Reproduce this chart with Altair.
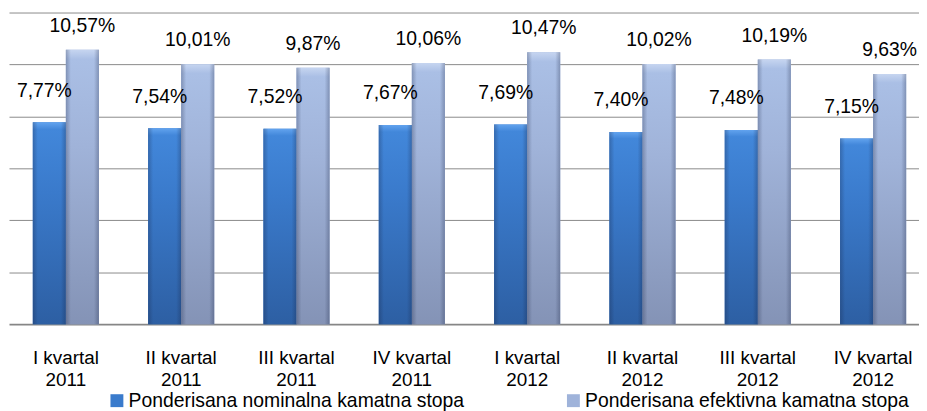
import altair as alt
import pandas as pd

quarters = ["I kvartal", "II kvartal", "III kvartal", "IV kvartal",
            "I kvartal", "II kvartal", "III kvartal", "IV kvartal"]
years = ["2011", "2011", "2011", "2011", "2012", "2012", "2012", "2012"]
series_names = ["Ponderisana nominalna kamatna stopa",
                "Ponderisana efektivna kamatna stopa"]
nominal = [7.77, 7.54, 7.52, 7.67, 7.69, 7.40, 7.48, 7.15]
effective = [10.57, 10.01, 9.87, 10.06, 10.47, 10.02, 10.19, 9.63]

categories = [f"{q} {y}" for q, y in zip(quarters, years)]
rows = []
for c, n, e in zip(categories, nominal, effective):
    rows.append({"cat": c, "series": series_names[0], "value": n})
    rows.append({"cat": c, "series": series_names[1], "value": e})
df = pd.DataFrame(rows)

FONT = "Liberation Sans"

x_enc = alt.X(
    "cat:N", sort=categories,
    scale=alt.Scale(paddingInner=0.427, paddingOuter=0.159, align=0.65),
    axis=alt.Axis(
        title=None, labelAngle=0, ticks=False, tickSize=0, grid=False,
        labelExpr="[substring(datum.value, 0, indexof(datum.value, ' 20')), substring(datum.value, indexof(datum.value, ' 20') + 1)]",
        labelFont=FONT, labelFontSize=19, labelColor="#000000",
        labelLineHeight=22, labelPadding=25,
        domain=True, domainColor="#868686", domainWidth=2,
    ),
)
xoff_enc = alt.XOffset("series:N", sort=series_names,
                       scale=alt.Scale(paddingInner=0, paddingOuter=0))
y_enc = alt.Y(
    "value:Q",
    scale=alt.Scale(domain=[0, 12], nice=False, zero=True),
    axis=alt.Axis(title=None, labels=False, ticks=False, domain=False,
                  grid=True, values=[2, 4, 6, 8, 10, 12],
                  gridColor="#8a8a8a", gridWidth=1),
)

base = alt.Chart(df).encode(x=x_enc, xOffset=xoff_enc, y=y_enc)

solid = base.mark_bar().encode(
    color=alt.Color(
        "series:N", sort=series_names,
        scale=alt.Scale(domain=series_names, range=["#3a7bcc", "#9fb3da"]),
        legend=alt.Legend(
            title=None, orient="none", legendX=99, legendY=381,
            direction="horizontal", symbolType="square", symbolSize=169,
            symbolStrokeWidth=0, labelFont=FONT, labelFontSize=19.5,
            labelColor="#000000", columnPadding=100, labelOffset=2,
            labelLimit=500,
        ),
    )
)


def vgrad(stops):
    return alt.Gradient(
        gradient="linear", x1=0, x2=0, y1=0, y2=1,
        stops=[alt.GradientStop(color=c, offset=o) for c, o in stops],
    )


nom_grad = vgrad([("#62a3ee", 0), ("#4287da", 0.035), ("#3a7acb", 0.35),
                  ("#2d5fa3", 1)])
eff_grad = vgrad([("#c6d5f0", 0), ("#aabfe5", 0.035), ("#a0b3d9", 0.35),
                  ("#8493b6", 1)])
edge_grad = alt.Gradient(
    gradient="linear", x1=0, x2=1, y1=0, y2=0,
    stops=[alt.GradientStop(color="rgba(20,30,60,0.28)", offset=0),
           alt.GradientStop(color="rgba(20,30,60,0.0)", offset=0.15),
           alt.GradientStop(color="rgba(20,30,60,0.0)", offset=0.85),
           alt.GradientStop(color="rgba(20,30,60,0.28)", offset=1)],
)

nom_bar = base.transform_filter(
    alt.datum.series == series_names[0]).mark_bar(color=nom_grad)
eff_bar = base.transform_filter(
    alt.datum.series == series_names[1]).mark_bar(color=eff_grad)
edges = base.mark_bar(color=edge_grad)

lab = base.transform_calculate(
    label="replace(format(datum.value, '.2f'), '.', ',') + '%'")
nom_text = lab.transform_filter(
    alt.datum.series == series_names[0]).mark_text(
    font=FONT, fontSize=19.5, color="#000000", baseline="middle",
    dy=-32, dx=-5).encode(text="label:N")
eff_text = lab.transform_filter(
    alt.datum.series == series_names[1]).mark_text(
    font=FONT, fontSize=19.5, color="#000000", baseline="middle",
    dy=-24).encode(text="label:N")

chart = alt.layer(solid, nom_bar, eff_bar, edges, nom_text, eff_text).properties(
    width=917, height=314,
    autosize=alt.AutoSizeParams(type="none"),
    padding={"left": 1, "top": 3, "right": 0, "bottom": 90},
    background="#ffffff",
).configure_view(stroke=None)

chart.save("out.html", embed_options={"renderer": "svg", "actions": False})
